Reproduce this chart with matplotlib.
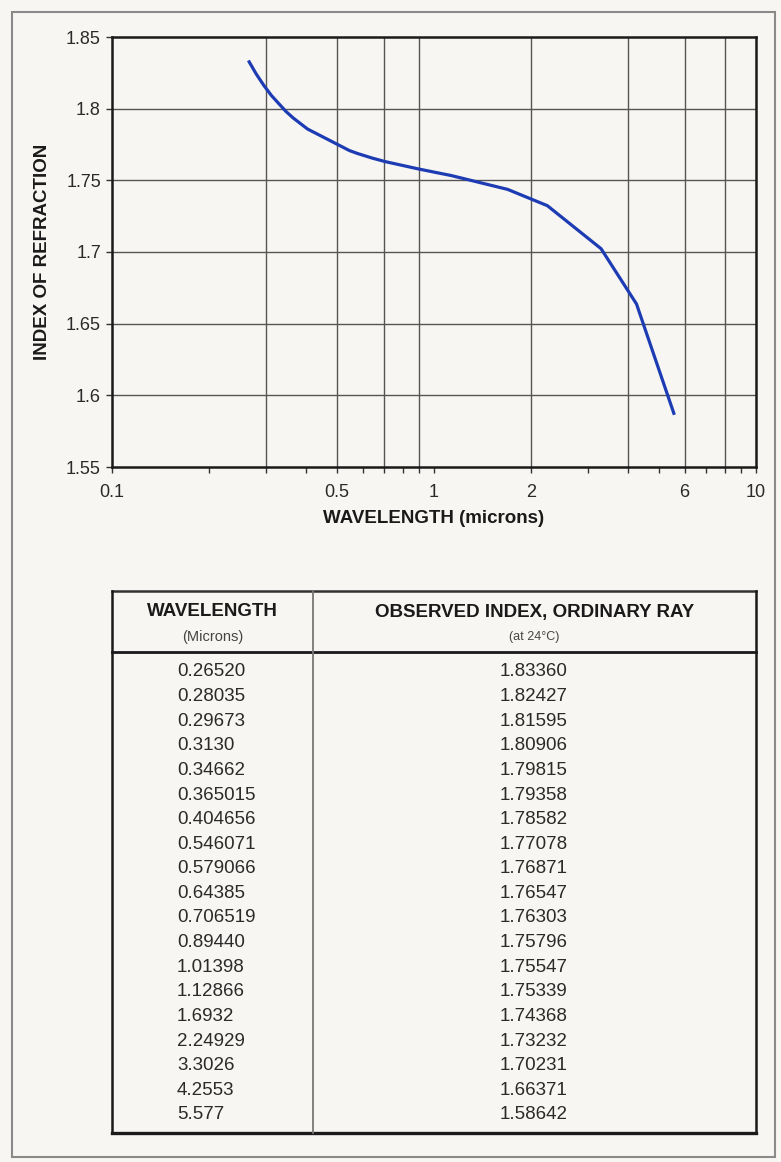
#!/usr/bin/env python3
"""
Refractive index (ordinary ray) vs wavelength, with the data table below.
"""

import matplotlib
matplotlib.use("Agg")
import matplotlib.pyplot as plt
from matplotlib.patches import Rectangle

OUT = "out.png"
W, H = 781, 1162

# ---------------------------------------------------------------------------
# Data (as printed in the table)
# ---------------------------------------------------------------------------

WAVELENGTH_TXT = ["0.26520", "0.28035", "0.29673", "0.3130", "0.34662",
                  "0.365015", "0.404656", "0.546071", "0.579066", "0.64385",
                  "0.706519", "0.89440", "1.01398", "1.12866", "1.6932",
                  "2.24929", "3.3026", "4.2553", "5.577"]
INDEX_TXT = ["1.83360", "1.82427", "1.81595", "1.80906", "1.79815",
             "1.79358", "1.78582", "1.77078", "1.76871", "1.76547",
             "1.76303", "1.75796", "1.75547", "1.75339", "1.74368",
             "1.73232", "1.70231", "1.66371", "1.58642"]

X_TICKS  = [0.1, 0.5, 1, 2, 6, 10]
X_LABELS = ["0.1", "0.5", "1", "2", "6", "10"]
X_MINOR  = [0.2, 0.3, 0.4, 0.6, 0.7, 0.8, 0.9, 3, 4, 5, 7, 8, 9]
X_GRID   = [0.3, 0.5, 0.7, 0.9, 2, 4, 6, 8]
Y_TICKS  = [1.55, 1.6, 1.65, 1.7, 1.75, 1.8, 1.85]
Y_LABELS = ["1.55", "1.6", "1.65", "1.7", "1.75", "1.8", "1.85"]

PAPER = "#f7f6f2"
INK   = "#2a2a2a"
BLUE  = "#1d3cb4"


def main():
    plt.rcParams["font.family"] = ["Liberation Sans", "DejaVu Sans"]

    wl = [float(s) for s in WAVELENGTH_TXT]
    n  = [float(s) for s in INDEX_TXT]

    fig = plt.figure(figsize=(W / 100, H / 100), dpi=100, facecolor=PAPER)

    # ---------------- chart ----------------
    left, right, top, bottom = 112, 756, 37, 467
    ax = fig.add_axes([left / W, 1 - bottom / H, (right - left) / W, (bottom - top) / H])
    ax.set_facecolor(PAPER)
    ax.set_xscale("log")
    ax.set_xlim(0.1, 10)
    ax.set_ylim(1.55, 1.85)

    for y in Y_TICKS[1:-1]:
        ax.axhline(y, color="#555555", lw=1.0, zorder=1)
    for x in X_GRID:
        ax.axvline(x, color="#555555", lw=1.0, zorder=1)

    ax.plot(wl, n, color=BLUE, lw=2.3, solid_capstyle="butt",
            solid_joinstyle="round", zorder=3)

    ax.set_xticks(X_TICKS)
    ax.set_xticklabels(X_LABELS)
    ax.set_xticks(X_MINOR, minor=True)
    ax.set_xticklabels([], minor=True)
    ax.set_yticks(Y_TICKS)
    ax.set_yticklabels(Y_LABELS)
    ax.tick_params(axis="x", which="both", direction="out", length=4, width=1,
                   pad=8, labelsize=13, labelcolor=INK, color="#333333")
    ax.tick_params(axis="y", direction="out", length=4, width=1,
                   pad=4, labelsize=13, labelcolor=INK, color="#333333")
    for s in ax.spines.values():
        s.set_linewidth(1.8)
        s.set_color("#1a1a1a")

    ax.set_xlabel("WAVELENGTH (microns)", fontsize=13.5, fontweight="bold",
                  color="#1a1a1a", labelpad=7)
    ax.set_ylabel("INDEX OF REFRACTION", fontsize=13.5, fontweight="bold",
                  color="#1a1a1a", labelpad=11)

    # ---------------- overlay in pixel coords: frame + table ----------------
    ov = fig.add_axes([0, 0, 1, 1])
    ov.set_xlim(0, W)
    ov.set_ylim(H, 0)
    ov.axis("off")
    ov.patch.set_visible(False)

    ov.add_patch(Rectangle((12, 12), 763, 1145, fill=False,
                           edgecolor="#8a8a8a", lw=1.5))

    t_left, t_right, t_top, t_bot = 112, 756, 591, 1133
    t_head, t_col = 652, 313
    ov.plot([t_left, t_right], [t_top, t_top], color="#333333", lw=1.8)
    ov.plot([t_left, t_right], [t_head, t_head], color="#1a1a1a", lw=2.0)
    ov.plot([t_left, t_right], [t_bot, t_bot], color="#1a1a1a", lw=2.4)
    ov.plot([t_left, t_left], [t_top, t_bot], color="#1a1a1a", lw=1.8)
    ov.plot([t_right, t_right], [t_top, t_bot], color="#1a1a1a", lw=1.8)
    ov.plot([t_col, t_col], [t_top, t_bot], color="#777777", lw=1.3)

    c1 = (t_left + t_col) / 2
    c2 = (t_col + t_right) / 2
    ov.text(c1, 612, "WAVELENGTH", ha="center", va="center", fontsize=13.5,
            fontweight="bold", color="#1a1a1a")
    ov.text(c1, 637, "(Microns)", ha="center", va="center", fontsize=10.5,
            color="#444444")
    ov.text(c2, 612, "OBSERVED INDEX, ORDINARY RAY", ha="center", va="center",
            fontsize=13.5, fontweight="bold", color="#1a1a1a")
    ov.text(c2, 637, "(at 24\u00b0C)", ha="center", va="center", fontsize=9,
            color="#444444")

    row0, step = 672, 24.6
    for i, (a, b) in enumerate(zip(WAVELENGTH_TXT, INDEX_TXT)):
        y = row0 + i * step
        ov.text(177, y, a, ha="left", va="center", fontsize=13.5, color=INK)
        ov.text(500, y, b, ha="left", va="center", fontsize=13.5, color=INK)

    fig.savefig(OUT, dpi=100, facecolor=PAPER)
    plt.close(fig)


if __name__ == "__main__":
    main()
